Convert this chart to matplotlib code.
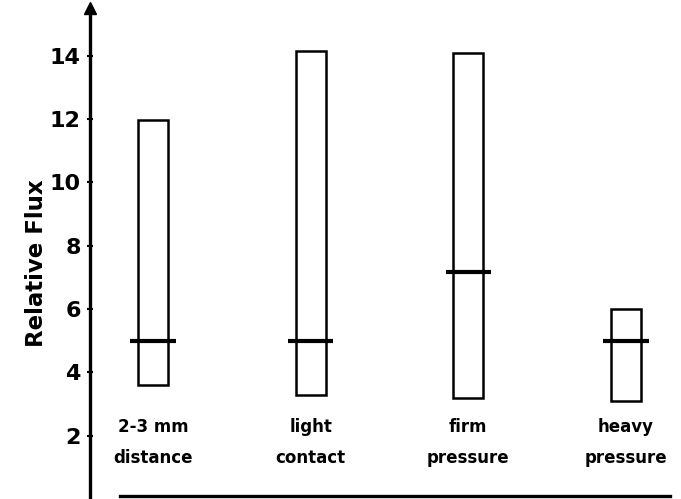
import numpy as np
import matplotlib.pyplot as plt

# data
labels = ['2-3 mm\ndistance', 'light\ncontact', 'firm\npressure', 'heavy\npressure']
lows = [3.6, 3.27, 3.2, 3.1]
highs = [11.95, 14.13, 14.09, 6.01]
medians = [5.0, 5.0, 7.17, 5.0]
yticks = [2, 4, 6, 8, 10, 12, 14]

x = np.arange(len(labels))
lows = np.array(lows)
highs = np.array(highs)

fig = plt.figure(figsize=(6.81, 4.99), dpi=100)
ax = fig.add_axes([0.132, 0.0, 0.852, 0.984])

# range boxes
ax.bar(x, highs - lows, bottom=lows, width=0.19, fill=False,
       edgecolor='black', linewidth=1.8)
# median bars
ax.hlines(medians, x - 0.143, x + 0.143, colors='black', linewidth=3)

# category labels under the boxes
for xi, lab in zip(x, labels):
    ax.text(xi, 1.79, lab, ha='center', va='center', fontsize=12,
            fontweight='bold', family='DejaVu Sans', linespacing=1.95)

ax.set_xlim(-0.4, 3.28)
ax.set_ylim(0, 15.5)

for s in ['top', 'right', 'bottom']:
    ax.spines[s].set_visible(False)
ax.spines['left'].set_linewidth(2.4)
ax.set_xticks([])
ax.set_yticks(yticks)
ax.set_yticklabels([str(t) for t in yticks], fontsize=16, fontweight='bold',
                   family='DejaVu Sans')
ax.tick_params(axis='y', direction='inout', length=5, width=1.5, pad=4)

# arrow tip on y axis
ax.plot([0], [1.0], marker='^', markersize=9, color='black',
        transform=ax.transAxes, clip_on=False)
# baseline that does not touch the y axis
ax.plot([0.052, 1.0], [0.1, 0.1], color='black', linewidth=2.4,
        transform=ax.get_yaxis_transform(), clip_on=False)

ax.set_ylabel('Relative Flux', fontsize=16.5, fontweight='bold',
              family='DejaVu Sans')
ax.yaxis.set_label_coords(-0.073, 0.48)

fig.savefig('out.png', dpi=100)
